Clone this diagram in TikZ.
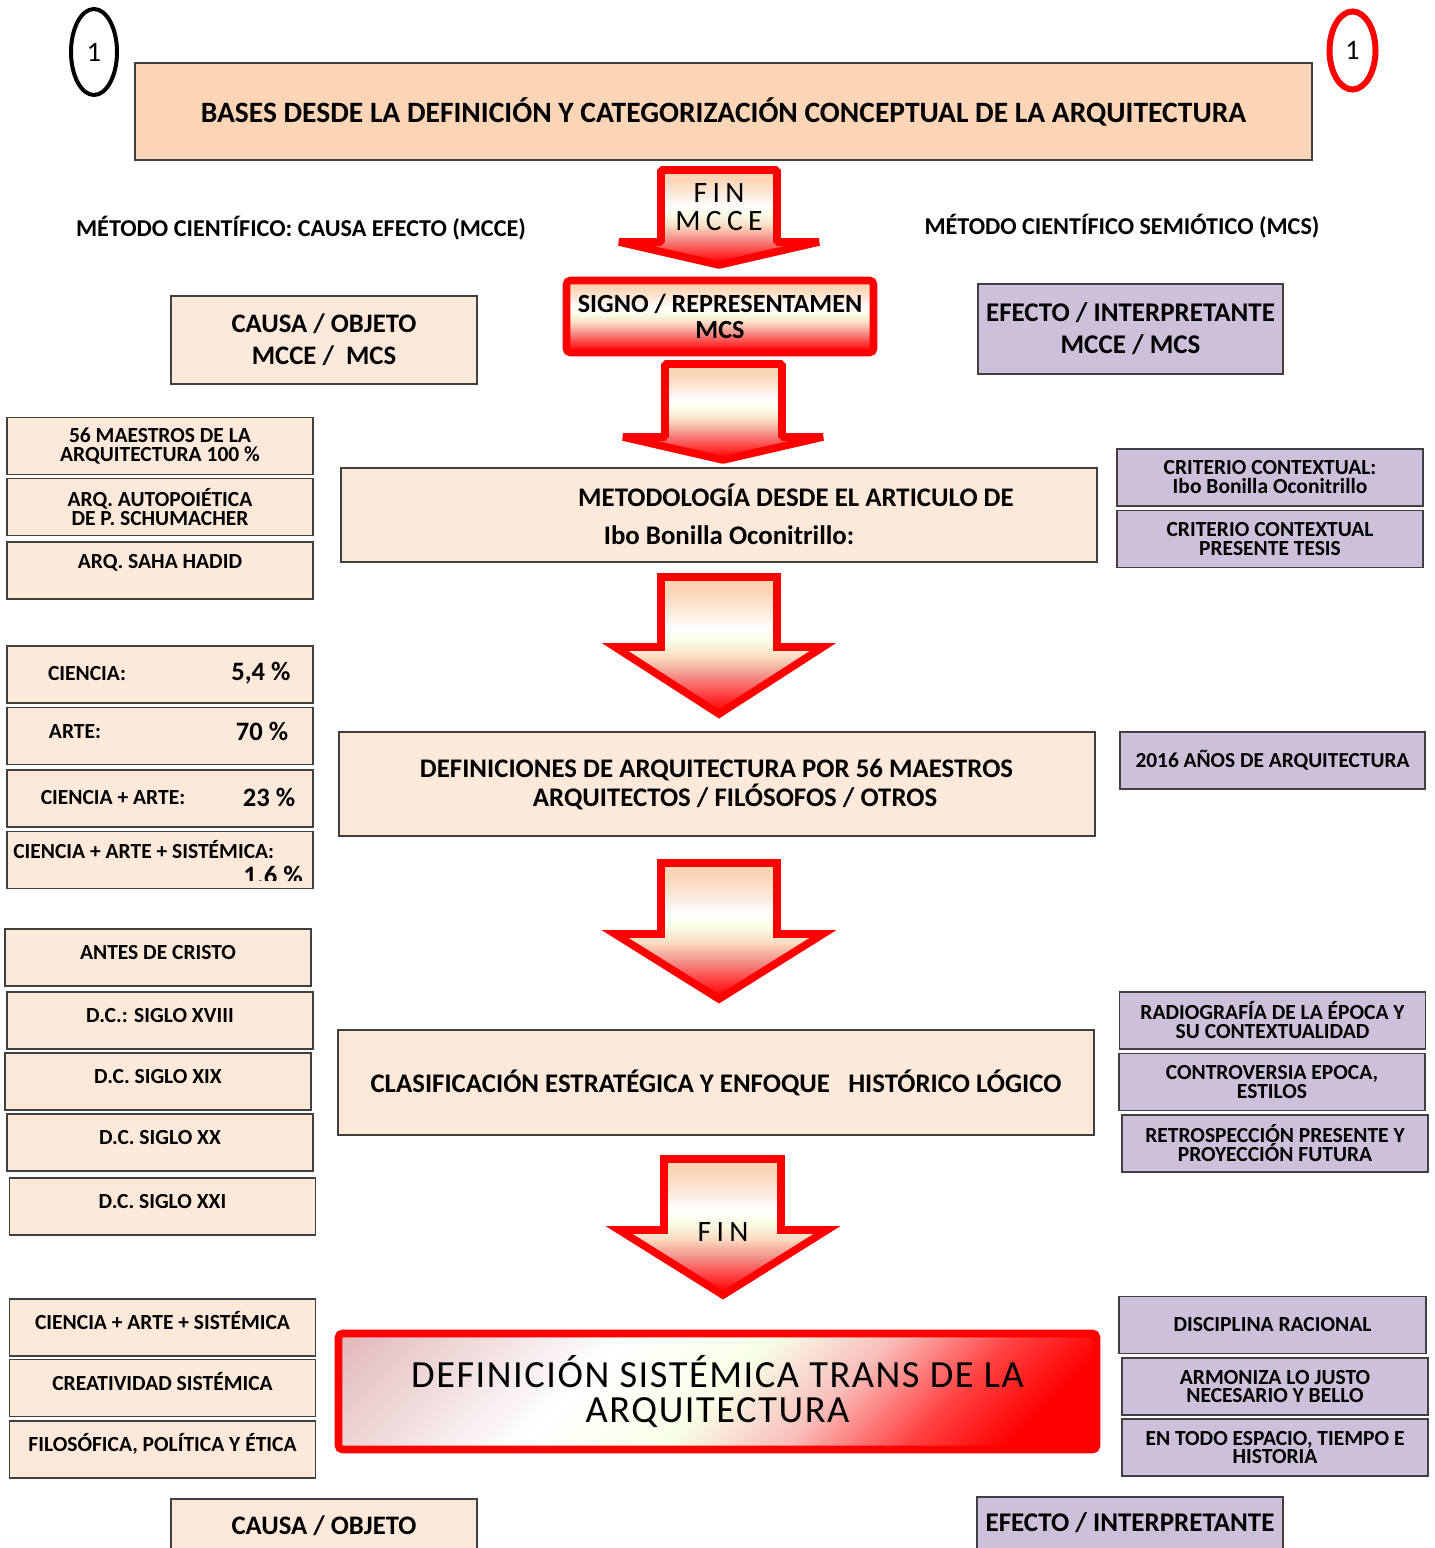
\documentclass[tikz,border=0pt]{standalone}
\usepackage{fontspec}
\setmainfont{Carlito}
\newfontfamily\finfont[LetterSpace=18]{Carlito}
\newfontfamily\sysfont[LetterSpace=4]{Carlito}
\usetikzlibrary{shapes.geometric}

\definecolor{peachdark}{HTML}{FBD5B5}
\definecolor{peachlight}{HTML}{FDE9D9}
\definecolor{lilac}{HTML}{CCC0DA}
\definecolor{edgegray}{HTML}{404040}
\definecolor{ivory}{HTML}{F8FFE8}
\definecolor{salmon}{HTML}{F4908A}
\definecolor{rose}{HTML}{E2B8BA}

\pgfdeclareverticalshading{arrowfill}{100bp}{color(0bp)=(red); color(26bp)=(red); color(32bp)=(red!75!white); color(39bp)=(salmon); color(46bp)=(peachdark!80!white); color(52bp)=(ivory); color(56bp)=(white); color(63bp)=(peachlight); color(70bp)=(peachdark); color(100bp)=(peachdark)}
\pgfdeclareverticalshading{defsisfill}{100bp}{color(0bp)=(red); color(22bp)=(red); color(30bp)=(red!75!white); color(40bp)=(salmon!60!white); color(50bp)=(ivory); color(62bp)=(white); color(85bp)=(rose); color(100bp)=(rose)}

\tikzset{
  box/.style={draw=edgegray, line width=0.4mm, inner sep=0pt, align=center, font=\bfseries\fontsize{15.3}{13.5}\selectfont},
  peachbox/.style={box, fill=peachlight},
  lilacbox/.style={box, fill=lilac},
  sidebox/.style={minimum width=76.5mm, minimum height=14.25mm},
  bigbox/.style={minimum width=189mm},
  raised/.style={text height=3.5mm, text depth=2.5mm},
  redbox/.style={draw=red, line width=1.9mm, rounded corners=1mm, shading=arrowfill, inner sep=0pt, align=center},
  blockarrow/.style={draw=red, line width=1.9mm, shading=arrowfill},
  heading/.style={inner sep=0pt, font=\bfseries\fontsize{17.2}{19}\selectfont},
  midtext/.style={inner sep=0pt, font=\bfseries\fontsize{19.1}{21}\selectfont},
  sidetext/.style={inner sep=0pt, font=\bfseries\fontsize{15.3}{15.3}\selectfont},
  pcttext/.style={inner sep=0pt, font=\bfseries\fontsize{18.9}{18.9}\selectfont},
  finlabel/.style={inner sep=0pt, align=center, font=\finfont\fontsize{21}{20}\selectfont}
}

\begin{document}
\begin{tikzpicture}[x=0.25mm, y=-0.25mm]
  \clip (0,0) rectangle (1434,1548);

  \node[ellipse, draw=black, line width=1mm, minimum width=11.5mm, minimum height=21.5mm, inner sep=0pt, font=\fontsize{20}{20}\selectfont] (numleft) at (94,52) {1};
  \node[ellipse, draw=red, line width=1.5mm, minimum width=11.5mm, minimum height=19.5mm, inner sep=0pt, font=\fontsize{20}{20}\selectfont] (numright) at (1352.5,50.5) {1};

  \node[box, fill=peachdark, minimum width=294.25mm, minimum height=24.25mm, font=\bfseries\fontsize{21}{24}\selectfont] (bases) at (723.5,111.5) {BASES DESDE LA DEFINICIÓN Y CATEGORIZACIÓN CONCEPTUAL DE LA ARQUITECTURA};

  \node[heading] (mcce) at (301,228) {MÉTODO CIENTÍFICO: CAUSA EFECTO (MCCE)};
  \node[heading] (mcs) at (1122,226) {MÉTODO CIENTÍFICO SEMIÓTICO (MCS)};

  \path[blockarrow, line join=bevel] (661,170) -- (777,170) -- (777,242) -- (819,242) -- (719,265) -- (619,242) -- (661,242) -- cycle;
  \node[finlabel] (finA) at (719,207.5) {FIN\\MCCE};

  \node[peachbox, minimum width=76.5mm, minimum height=22mm, font=\bfseries\fontsize{19}{22.8}\selectfont] (causa) at (324,340) {CAUSA / OBJETO\\MCCE / \ MCS};
  \node[redbox, minimum width=76.75mm, minimum height=18mm, font=\bfseries\fontsize{18.6}{18}\selectfont] (signo) at (720,316.5) {SIGNO / REPRESENTAMEN\\MCS};
  \node[lilacbox, minimum width=76.25mm, minimum height=22.5mm, font=\bfseries\fontsize{19.2}{22.8}\selectfont] (efecto) at (1130.5,329) {EFECTO / INTERPRETANTE\\MCCE / MCS};

  \path[blockarrow, line join=bevel] (665,364) -- (782,364) -- (782,437) -- (823,437) -- (723,460) -- (623,437) -- (665,437) -- cycle;

  \node[peachbox, sidebox] (maestros) at (160,446) {56 MAESTROS DE LA\\ARQUITECTURA 100 \%};
  \node[peachbox, sidebox] (autopo) at (160,507) {ARQ. AUTOPOIÉTICA\\DE P. SCHUMACHER};
  \node[peachbox, sidebox, text height=3.5mm, text depth=4.75mm] (hadid) at (160,570.5) {ARQ. SAHA HADID};

  \node[peachbox, bigbox, minimum height=23.5mm] (metodo) at (719,515) {};
  \node[midtext] (metodoA) at (796,495) {METODOLOGÍA DESDE EL ARTICULO DE};
  \node[midtext] (metodoB) at (729,535) {Ibo Bonilla Oconitrillo:};

  \node[lilacbox, sidebox] (critA) at (1270,477.5) {CRITERIO CONTEXTUAL:\\Ibo Bonilla Oconitrillo};
  \node[lilacbox, sidebox] (critB) at (1270,539) {CRITERIO CONTEXTUAL\\PRESENTE TESIS};

  \path[blockarrow] (661,577) -- (777,577) -- (777,647) -- (823,647) -- (719,714) -- (615,647) -- (661,647) -- cycle;

  \node[peachbox, sidebox] (ciencia) at (160,674.5) {};
  \node[sidetext] (cienciaT) at (87,674) {CIENCIA:};
  \node[pcttext] (cienciaV) at (261,673) {5,4 \%};
  \node[peachbox, sidebox] (arte) at (160,736) {};
  \node[sidetext] (arteT) at (75,732) {ARTE:};
  \node[pcttext] (arteV) at (262,731) {70 \%};
  \node[peachbox, sidebox] (cienart) at (160,798.5) {};
  \node[sidetext] (cienartT) at (113,798) {CIENCIA + ARTE:};
  \node[pcttext] (cienartV) at (269,797) {23 \%};
  \node[peachbox, sidebox] (sistem) at (160,860) {};
  \node[sidetext, anchor=west] (sistemT) at (13,850) {CIENCIA + ARTE + SISTÉMICA:};
  \begin{scope}
    \clip (7,832) rectangle (313,880);
    \node[pcttext] (sistemV) at (273,875) {1.6 \%};
  \end{scope}

  \node[peachbox, bigbox, minimum height=26mm] (definic) at (717,784) {};
  \node[midtext] (definicA) at (716.5,770) {DEFINICIONES DE ARQUITECTURA POR 56 MAESTROS};
  \node[midtext] (definicB) at (735,797) {ARQUITECTOS / FILÓSOFOS / OTROS};
  \node[lilacbox, sidebox, minimum width=76.25mm, font=\bfseries\fontsize{15.2}{15.2}\selectfont] (anios) at (1272.5,760.5) {2016 AÑOS DE ARQUITECTURA};

  \path[blockarrow] (661,863) -- (777,863) -- (777,934) -- (823,934) -- (719,999) -- (615,934) -- (661,934) -- cycle;

  \node[peachbox, sidebox, raised] (antes) at (158,957.5) {ANTES DE CRISTO};
  \node[peachbox, sidebox, raised] (xviii) at (160,1020.5) {D.C.: SIGLO XVIII};
  \node[peachbox, sidebox, raised] (xix) at (158,1081.5) {D.C. SIGLO XIX};
  \node[peachbox, sidebox, raised] (xx) at (160,1142.5) {D.C. SIGLO XX};
  \node[peachbox, sidebox, raised] (xxi) at (162.5,1206.5) {D.C. SIGLO XXI};

  \node[peachbox, bigbox, minimum height=26.25mm, font=\bfseries\fontsize{19.1}{21}\selectfont] (clasif) at (716,1082.5) {CLASIFICACIÓN ESTRATÉGICA Y ENFOQUE \ \ HISTÓRICO LÓGICO};

  \node[lilacbox, sidebox] (radio) at (1272.5,1020.5) {RADIOGRAFÍA DE LA ÉPOCA Y\\SU CONTEXTUALIDAD};
  \node[lilacbox, sidebox] (contro) at (1272,1082) {CONTROVERSIA EPOCA,\\ESTILOS};
  \node[lilacbox, sidebox] (retro) at (1275,1143.5) {RETROSPECCIÓN PRESENTE Y\\PROYECCIÓN FUTURA};

  \path[blockarrow] (664,1159) -- (781,1159) -- (781,1230) -- (827,1230) -- (723,1295) -- (619,1230) -- (664,1230) -- cycle;
  \node[finlabel] (finB) at (723,1232) {FIN};

  \node[peachbox, sidebox, raised] (cas) at (162.5,1327.5) {CIENCIA + ARTE + SISTÉMICA};
  \node[peachbox, sidebox, raised] (creat) at (162.5,1388) {CREATIVIDAD SISTÉMICA};
  \node[peachbox, sidebox, raised] (filo) at (162.5,1449.5) {FILOSÓFICA, POLÍTICA Y ÉTICA};

  \node[redbox, shading=defsisfill, shading angle=45, minimum width=189.5mm, minimum height=29mm, font=\sysfont\fontsize{27.3}{25}\selectfont] (defsis) at (717.5,1391.5) {DEFINICIÓN SISTÉMICA TRANS DE LA\\ARQUITECTURA};

  \node[lilacbox, sidebox, minimum width=76.75mm] (discip) at (1272.5,1325) {DISCIPLINA RACIONAL};
  \node[lilacbox, sidebox] (armon) at (1275,1386.5) {ARMONIZA LO JUSTO\\NECESARIO Y BELLO};
  \node[lilacbox, sidebox] (espacio) at (1275,1447.5) {EN TODO ESPACIO, TIEMPO E\\HISTORIA};

  \node[peachbox, anchor=north, minimum width=76.5mm, minimum height=22mm, text height=4.3mm, text depth=8.5mm, font=\bfseries\fontsize{19}{22.8}\selectfont] (causaB) at (324,1498) {CAUSA / OBJETO};
  \node[lilacbox, anchor=north, minimum width=76.5mm, minimum height=22.5mm, text height=4.35mm, text depth=9.5mm, font=\bfseries\fontsize{19.2}{22.8}\selectfont] (efectoB) at (1130,1496) {EFECTO / INTERPRETANTE};
\end{tikzpicture}
\end{document}
